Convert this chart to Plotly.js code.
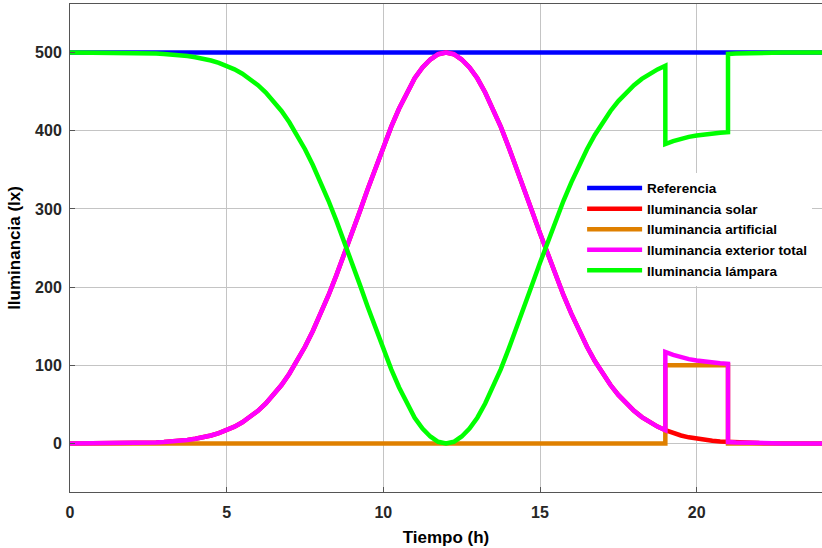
<!DOCTYPE html>
<html>
<head>
<meta charset="utf-8">
<script src="https://cdn.plot.ly/plotly-3.0.1.min.js"></script>
<style>
html,body{margin:0;padding:0;background:#fff;}
#chart{width:822px;height:548px;}
</style>
</head>
<body>
<div id="chart"></div>
<script>
// Time (h); 19 and 21 repeated for the step changes
var tiempo = [0,0.25,0.5,0.75,1,1.25,1.5,1.75,2,2.25,2.5,2.75,3,3.25,3.5,3.75,4,4.25,4.5,4.75,5,5.25,5.5,5.75,6,6.25,6.5,6.75,7,7.25,7.5,7.75,8,8.25,8.5,8.75,9,9.25,9.5,9.75,10,10.25,10.5,10.75,11,11.25,11.5,11.75,12,
  12.25,12.5,12.75,13,13.25,13.5,13.75,14,14.25,14.5,14.75,15,15.25,15.5,15.75,16,16.25,16.5,16.75,17,17.25,17.5,17.75,18,18.25,18.5,18.75,19,
  19,19.25,19.5,19.75,20,20.25,20.5,20.75,21,
  21,21.25,21.5,21.75,22,22.25,22.5,22.75,23,23.25,23.5,23.75,24];

var referencia = [500,500,500,500,500,500,500,500,500,500,500,
  500,500,500,500,500,500,500,500,500,500,500,
  500,500,500,500,500,500,500,500,500,500,500,
  500,500,500,500,500,500,500,500,500,500,500,
  500,500,500,500,500,500,500,500,500,500,500,
  500,500,500,500,500,500,500,500,500,500,500,
  500,500,500,500,500,500,500,500,500,500,500,
  500,500,500,500,500,500,500,500,500,500,500,
  500,500,500,500,500,500,500,500,500,500,500];

var solar = [0.02,0.04,0.05,0.08,0.12,0.17,0.25,0.36,0.5,0.7,1.0,1.4,1.9,2.5,3.4,4.6,6.1,7.9,10.3,13.3,17.0,21.6,27.1,33.8,41.8,51.2,62.1,74.8,89.2,105.5,123.7,143.9,166,189.6,215,241.3,269,296.8,325,352.6,379,404.8,428,448.9,467,481.0,491,497.8,500,
  497.8,491,481.0,467,448.9,428,404.8,379,352.6,325,296.8,269,241.3,215,189.6,166,143.9,123.7,105.5,89.2,74.8,62.1,51.2,41.8,33.8,27.1,21.6,17.0,
  17.0,13.3,10.3,7.9,6.1,4.6,3.4,2.5,1.9,
  1.9,1.4,1.0,0.7,0.5,0.36,0.25,0.17,0.12,0.08,0.05,0.04,0.02];

var artificial = [0,0,0,0,0,0,0,0,0,0,0,
  0,0,0,0,0,0,0,0,0,0,0,
  0,0,0,0,0,0,0,0,0,0,0,
  0,0,0,0,0,0,0,0,0,0,0,
  0,0,0,0,0,0,0,0,0,0,0,
  0,0,0,0,0,0,0,0,0,0,0,
  0,0,0,0,0,0,0,0,0,0,0,
  100,100,100,100,100,100,100,100,100,
  0,0,0,0,0,0,0,0,0,0,0,0,0];

var exteriorTotal = [0.02,0.04,0.05,0.08,0.12,0.17,0.25,0.36,0.5,0.7,1.0,1.4,1.9,2.5,3.4,4.6,6.1,7.9,10.3,13.3,17.0,21.6,27.1,33.8,41.8,51.2,62.1,74.8,89.2,105.5,123.7,143.9,166,189.6,215,241.3,269,296.8,325,352.6,379,404.8,428,448.9,467,481.0,491,497.8,500,
  497.8,491,481.0,467,448.9,428,404.8,379,352.6,325,296.8,269,241.3,215,189.6,166,143.9,123.7,105.5,89.2,74.8,62.1,51.2,41.8,33.8,27.1,21.6,17.0,
  117.0,113.3,110.3,107.9,106.1,104.6,103.4,102.5,101.9,
  1.9,1.4,1.0,0.7,0.5,0.36,0.25,0.17,0.12,0.08,0.05,0.04,0.02];

var lampara = [499.98,499.96,499.95,499.92,499.88,499.83,499.75,499.64,499.5,499.3,499.0,498.6,498.1,497.5,496.6,495.4,493.9,492.1,489.7,486.7,483.0,478.4,472.9,466.2,458.2,448.8,437.9,425.2,410.8,394.5,376.3,356.1,334,310.4,285,258.7,231,203.2,175,147.4,121,95.2,72,51.1,33,19.0,9,2.2,0,
  2.2,9,19.0,33,51.1,72,95.2,121,147.4,175,203.2,231,258.7,285,310.4,334,356.1,376.3,394.5,410.8,425.2,437.9,448.8,458.2,466.2,472.9,478.4,483.0,
  383.0,386.7,389.7,392.1,393.9,395.4,396.6,397.5,398.1,
  498.1,498.6,499.0,499.3,499.5,499.64,499.75,499.83,499.88,499.92,499.95,499.96,499.98];

var nombres = ['Referencia','Iluminancia solar','Iluminancia artificial','Iluminancia exterior total','Iluminancia lámpara'];
var xTicks = [0,5,10,15,20];
var yTicks = [0,100,200,300,400,500];

var series = [referencia, solar, artificial, exteriorTotal, lampara];
var colores = ['#0000ff','#ff0000','#df8000','#ff00ff','#00ff00'];

var traces = series.map(function(s,i){
  return {x: tiempo, y: s, name: nombres[i], type:'scatter', mode:'lines',
          line:{color: colores[i], width:4.5}};
});

var fontFam = '"Liberation Sans", Arial, sans-serif';
var layout = {
  width:822, height:548,
  margin:{l:70, r:0, t:4, b:56},
  paper_bgcolor:'#ffffff', plot_bgcolor:'#ffffff',
  font:{family:fontFam, color:'#262626'},
  showlegend:true,
  legend:{x:0.681, xanchor:'left', y:0.654, yanchor:'top', bgcolor:'#ffffff',
          borderwidth:0, font:{family:fontFam, size:13.5, color:'#000', weight:'bold'},
          itemwidth:55, tracegroupgap:0},
  xaxis:{range:[0,24], tickvals:xTicks, ticktext:xTicks.map(String),
         showgrid:true, gridcolor:'#c4c4c4', gridwidth:1, zeroline:false,
         showline:true, linecolor:'#555', linewidth:1, mirror:true,
         ticks:'inside', ticklen:5, tickcolor:'#555',
         tickfont:{family:fontFam, size:16, color:'#262626', weight:'bold'},
         ticklabelstandoff:6,
         title:{text:'Tiempo (h)', font:{family:fontFam, size:17, color:'#000', weight:'bold'}, standoff:10}},
  yaxis:{range:[-62,562], tickvals:yTicks, ticktext:yTicks.map(String),
         showgrid:true, gridcolor:'#c4c4c4', gridwidth:1, zeroline:false,
         showline:true, linecolor:'#555', linewidth:1, mirror:true,
         ticks:'inside', ticklen:5, tickcolor:'#555',
         tickfont:{family:fontFam, size:16, color:'#262626', weight:'bold'},
         ticklabelstandoff:4,
         title:{text:'Iluminancia (lx)', font:{family:fontFam, size:17, color:'#000', weight:'bold'}, standoff:10}}
};

Plotly.newPlot('chart', traces, layout, {displayModeBar:false, staticPlot:true});
</script>
</body>
</html>
